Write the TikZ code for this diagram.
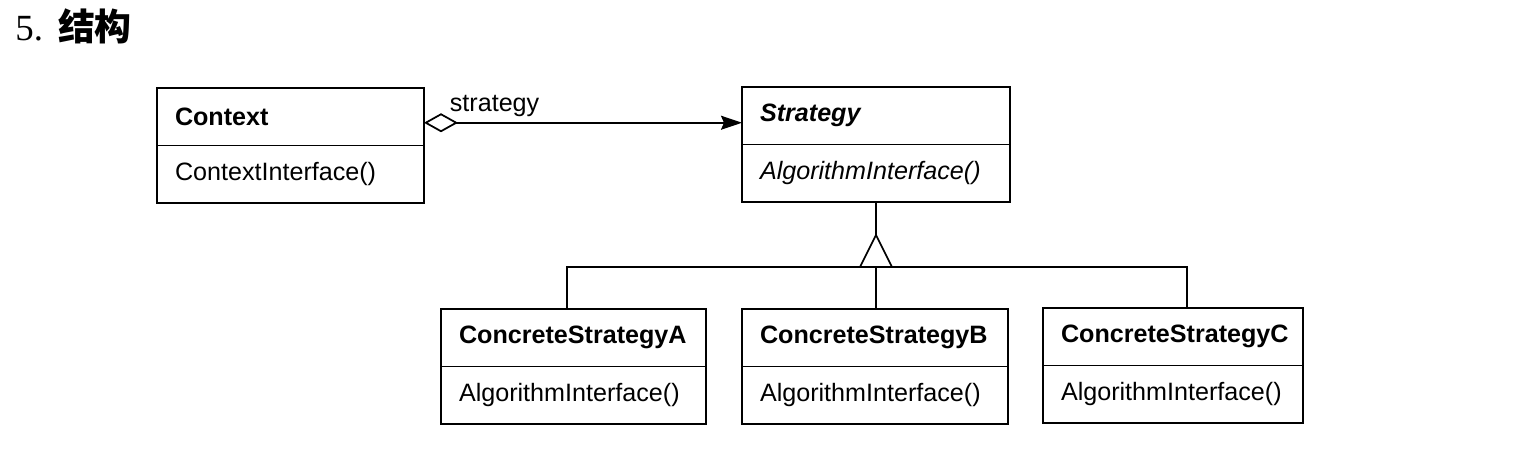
\documentclass[tikz,border=0pt]{standalone}
\usepackage{fontspec}
\setmainfont{Liberation Sans}
\newfontfamily\numfont{Liberation Serif}
\newfontfamily\cjk{Noto Sans CJK SC}
\usetikzlibrary{positioning,arrows.meta}

\begin{document}
\begin{tikzpicture}[
    cls/.style={draw, line width=1pt, outer sep=0pt, inner xsep=0.36cm,
        text width=#1, align=left, minimum height=1.15cm,
        font=\fontsize{14.3}{17}\selectfont},
    clsname/.style={font=\fontsize{14.3}{17}\selectfont\bfseries},
    link/.style={line width=1pt}
]
\useasboundingbox (0,0) rectangle (30.36,9.12);

% title
\node[anchor=base west, inner sep=0pt] (title) at (0.3,8.3)
    {\fontsize{21}{25}\selectfont\numfont 5.\hspace{0.3cm}\cjk\bfseries 结构};

% context and strategy
\node[cls=4.62cm, clsname, anchor=north west] (ctx) at (3.14,7.36) {Context};
\node[cls=4.62cm, below=0pt of ctx] (ctxop) {ContextInterface()};

\node[cls=4.64cm, clsname, anchor=north west] (strat) at (14.84,7.38) {\itshape Strategy};
\node[cls=4.64cm, below=0pt of strat] (stratop) {\itshape AlgorithmInterface()};

% concrete strategies
\node[cls=4.58cm, clsname, anchor=north west] (csa) at (8.82,2.94) {ConcreteStrategyA};
\node[cls=4.58cm, below=0pt of csa] (csaop) {AlgorithmInterface()};

\node[cls=4.60cm, clsname, anchor=north west] (csb) at (14.84,2.94) {ConcreteStrategyB};
\node[cls=4.60cm, below=0pt of csb] (csbop) {AlgorithmInterface()};

\node[cls=4.48cm, clsname, anchor=north west] (csc) at (20.86,2.96) {ConcreteStrategyC};
\node[cls=4.48cm, below=0pt of csc] (cscop) {AlgorithmInterface()};

% aggregation
\draw[link, {Diamond[open,length=0.68cm,width=0.38cm]}-{Stealth[length=0.42cm,width=0.28cm,inset=0.06cm]}]
    ([yshift=-0.12cm]ctx.east) -- ([yshift=-0.12cm]ctx.east -| strat.west)
    node[pos=0, anchor=south west, xshift=0.5cm, yshift=0.1cm, inner sep=0pt,
        font=\fontsize{14.3}{17}\selectfont] (lbl) {strategy};

% inheritance
\coordinate (apex) at ([yshift=-0.66cm]stratop.south);
\coordinate (bus) at ([yshift=-0.64cm]apex);
\draw[link, line join=miter] (stratop.south) -- (apex) -- ([xshift=-0.32cm]bus)
    -- ([xshift=0.32cm]bus) -- (apex);
\draw[link] ([xshift=-0.13cm]csa.north) |- (bus) -| ([xshift=0.28cm]csc.north);
\draw[link] (bus) -- (bus |- csb.north);
\end{tikzpicture}
\end{document}
